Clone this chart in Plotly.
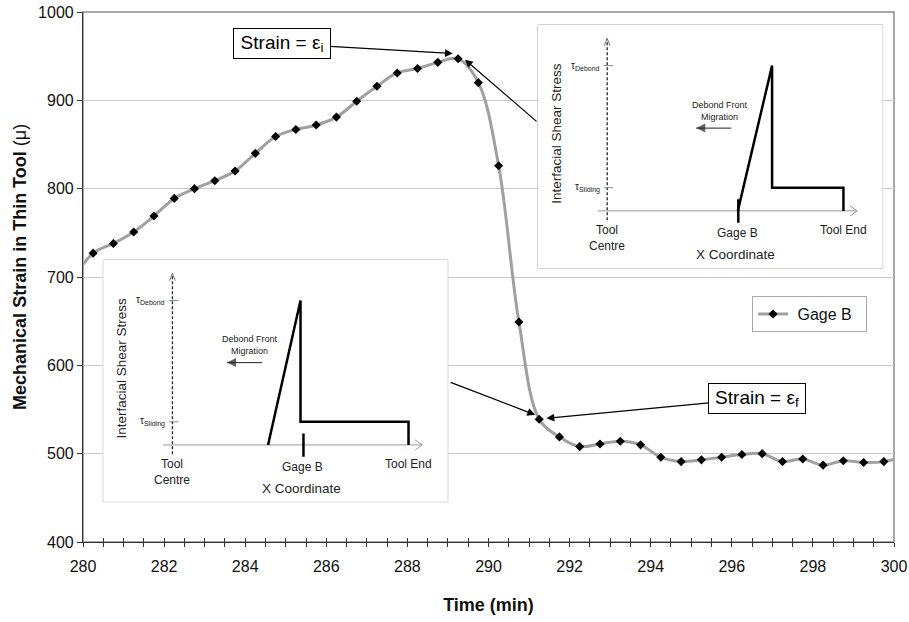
import plotly.graph_objects as go

# ---------------- main data ----------------
time_min = [279.75, 280.25, 280.75, 281.25, 281.75, 282.25, 282.75, 283.25, 283.75,
            284.25, 284.75, 285.25, 285.75, 286.25, 286.75, 287.25, 287.75, 288.25,
            288.75, 289.25, 289.75, 290.25, 290.75, 291.25, 291.75, 292.25, 292.75,
            293.25, 293.75, 294.25, 294.75, 295.25, 295.75, 296.25, 296.75, 297.25,
            297.75, 298.25, 298.75, 299.25, 299.75, 300.25]
gage_b = [697, 727, 738, 751, 769, 789, 800, 809, 820,
          840, 859, 867, 872, 881, 899, 916, 931, 936,
          943, 947, 920, 826, 649, 539, 519, 508, 511,
          514, 510, 496, 491, 493, 496, 499, 500, 491,
          494, 487, 492, 490, 491, 497]
series_name = "Gage B"

x_ticks = [280, 282, 284, 286, 288, 290, 292, 294, 296, 298, 300]
y_ticks = [400, 500, 600, 700, 800, 900, 1000]

# strain markers pointed at by the call-outs
eps_i_point = (289.12, 953)
eps_f_point = (291.43, 540)
upper_inset_target = (289.42, 946)
lower_inset_target = (291.15, 544)

# ---------------- inset schematic data (normalised units) ----------------
# x: 0 = tool centre, 1 = tool end ; y: 0 = zero stress, 1 = tau_debond
tau_debond = 1.0
tau_sliding = 0.16
gage_b_pos = 0.555
stress_axis_y = [-0.064, 1.187]
x_axis_ext = [-0.04, 1.058]
upper_profile_x = [0.553, 0.698, 0.698, 1.0, 1.0]
lower_profile_x = [0.405, 0.5425, 0.5425, 1.0, 1.0]
profile_y = [0, tau_debond, tau_sliding, tau_sliding, 0]
upper_migration = (0.525, 0.377)   # arrow tail -> head
lower_migration = (0.38, 0.231)
upper_migration_label_x = 0.478
lower_migration_label_x = 0.33

FONT = "Liberation Sans, Arial, sans-serif"
GRID = "#c8c8c8"
AXIS = "#333333"
NBSP = "\u00a0"

fig = go.Figure()

fig.add_trace(go.Scatter(
    x=time_min, y=gage_b, name=NBSP + series_name + NBSP * 2, mode="lines+markers",
    line=dict(color="#a0a0a0", width=3, shape="spline", smoothing=1),
    marker=dict(symbol="diamond", size=7, color="black"),
    cliponaxis=True, xaxis="x", yaxis="y"))

# invisible trace to activate the overlay axis used for the inner half of crossing ticks
fig.add_trace(go.Scatter(x=[None], y=[None], xaxis="x2", yaxis="y",
                         showlegend=False, hoverinfo="skip"))

annotations = []
shapes = []


def add_inset(xr, ya, profile_x, migration, mig_label_x):
    # stress axis (dashed) + open arrow head
    fig.add_trace(go.Scatter(x=[0, 0], y=stress_axis_y, mode="lines", xaxis=xr, yaxis=ya,
                             line=dict(color="#222", width=1.3, dash="3px,2px"),
                             showlegend=False, hoverinfo="skip"))
    top = stress_axis_y[1]
    fig.add_trace(go.Scatter(x=[-0.012, 0, 0.012], y=[top - 0.05, top, top - 0.05],
                             mode="lines", xaxis=xr, yaxis=ya,
                             line=dict(color="#777", width=1), showlegend=False, hoverinfo="skip"))
    # x coordinate axis + open arrow head
    fig.add_trace(go.Scatter(x=x_axis_ext, y=[0, 0], mode="lines", xaxis=xr, yaxis=ya,
                             line=dict(color="#999", width=1), showlegend=False, hoverinfo="skip"))
    end = x_axis_ext[1]
    fig.add_trace(go.Scatter(x=[end - 0.03, end, end - 0.03], y=[0.035, 0, -0.035],
                             mode="lines", xaxis=xr, yaxis=ya,
                             line=dict(color="#999", width=1), showlegend=False, hoverinfo="skip"))
    # tau ticks
    fig.add_trace(go.Scatter(x=[-0.014, 0.025, None, -0.014, 0.025],
                             y=[tau_debond, tau_debond, None, tau_sliding, tau_sliding],
                             mode="lines", xaxis=xr, yaxis=ya,
                             line=dict(color="#888", width=1), showlegend=False, hoverinfo="skip"))
    # shear stress profile
    fig.add_trace(go.Scatter(x=profile_x, y=profile_y, mode="lines", xaxis=xr, yaxis=ya,
                             line=dict(color="black", width=2.5), showlegend=False,
                             hoverinfo="skip"))
    # gage position tick
    fig.add_trace(go.Scatter(x=[gage_b_pos, gage_b_pos], y=[-0.082, 0.08], mode="lines",
                             xaxis=xr, yaxis=ya, line=dict(color="black", width=2.5),
                             showlegend=False, hoverinfo="skip"))
    # debond front migration arrow
    fig.add_trace(go.Scatter(x=[migration[0], migration[1]], y=[0.57, 0.57], mode="lines+markers",
                             xaxis=xr, yaxis=ya, line=dict(color="#222", width=1),
                             marker=dict(symbol=["circle", "arrow-left"], size=[0, 9],
                                         color="#222", line=dict(width=0)),
                             showlegend=False, hoverinfo="skip"))

    shapes.append(dict(type="rect", xref=f"{xr} domain", yref=f"{ya} domain",
                       x0=0, x1=1, y0=0, y1=1, fillcolor="white",
                       line=dict(color="#a8a8a8", width=1), layer="below"))
    small = dict(family=FONT, color="#222")
    annotations.extend([
        dict(x=-0.214, y=0.535, xref=xr, yref=ya, text="Interfacial Shear Stress",
             textangle=-90, showarrow=False, font=dict(size=13.5, **small)),
        dict(x=-0.022, y=tau_debond, xref=xr, yref=ya, text="τ<sub>Debond</sub>",
             xanchor="right", showarrow=False, font=dict(size=10, **small)),
        dict(x=-0.022, y=tau_sliding, xref=xr, yref=ya, text="τ<sub>Sliding</sub>",
             xanchor="right", showarrow=False, font=dict(size=10, **small)),
        dict(x=mig_label_x, y=0.69, xref=xr, yref=ya, text="Debond Front<br>Migration",
             showarrow=False, font=dict(size=9, **small)),
        dict(x=0, y=-0.185, xref=xr, yref=ya, text="Tool<br>Centre", showarrow=False,
             font=dict(size=12, **small)),
        dict(x=gage_b_pos - 0.005, y=-0.152, xref=xr, yref=ya, text="Gage B",
             showarrow=False, font=dict(size=12, **small)),
        dict(x=1.0, y=-0.133, xref=xr, yref=ya, text="Tool End", showarrow=False,
             font=dict(size=12, **small)),
        dict(x=0.545, y=-0.30, xref=xr, yref=ya, text="X Coordinate", showarrow=False,
             font=dict(size=13.5, **small)),
    ])


add_inset("x3", "y3", upper_profile_x, upper_migration, upper_migration_label_x)
add_inset("x4", "y4", lower_profile_x, lower_migration, lower_migration_label_x)

box_font = dict(family=FONT, size=19, color="black")
annotations.extend([
    dict(x=eps_i_point[0], y=eps_i_point[1], xref="x", yref="y",
         text="Strain = ε<sub>i</sub>", showarrow=True, ax=-171, ay=-10,
         arrowhead=2, arrowsize=1.3, arrowwidth=1.2, arrowcolor="black",
         bordercolor="black", borderwidth=1, borderpad=2, bgcolor="white",
         width=92, height=25, font=box_font),
    dict(x=eps_f_point[0], y=eps_f_point[1], xref="x", yref="y",
         text="Strain = ε<sub>f</sub>", showarrow=True, ax=211, ay=-20,
         arrowhead=2, arrowsize=1.3, arrowwidth=1.2, arrowcolor="black",
         bordercolor="black", borderwidth=1, borderpad=2, bgcolor="white",
         width=92, height=25, font=box_font),
    dict(x=upper_inset_target[0], y=upper_inset_target[1], xref="x", yref="y",
         text="", showarrow=True, ax=73, ay=63, arrowhead=2, arrowsize=1.3,
         arrowwidth=1.2, arrowcolor="black"),
    dict(x=lower_inset_target[0], y=lower_inset_target[1], xref="x", yref="y",
         text="", showarrow=True, ax=-86, ay=-33, arrowhead=2, arrowsize=1.3,
         arrowwidth=1.2, arrowcolor="black"),
    # y-axis title (placed as in the reference: slightly above the plot centre)
    dict(x=-0.0777, y=0.519, xref="paper", yref="paper", xanchor="center", yanchor="middle",
         text="<b>Mechanical Strain in Thin Tool </b>(μ)", textangle=-90, showarrow=False,
         font=dict(size=18, family=FONT, color="#111")),
])

# gray frame on top / right of the plot area
shapes.append(dict(type="rect", xref="paper", yref="paper", x0=0, x1=1, y0=0, y1=1,
                   line=dict(color="#8c8c8c", width=1.5), layer="below"))

inset_axis = dict(visible=False, showgrid=False, zeroline=False, fixedrange=True)

fig.update_layout(
    width=909, height=622,
    margin=dict(l=83, r=15, t=12, b=80, autoexpand=False),
    paper_bgcolor="white", plot_bgcolor="white",
    font=dict(family=FONT, size=16, color="#111"),
    showlegend=True,
    legend=dict(x=0.825, y=0.464, xanchor="left", yanchor="top",
                bordercolor="#a8a8a8", borderwidth=1, bgcolor="white",
                font=dict(size=16, family=FONT, color="#111"), itemwidth=30),
    xaxis=dict(range=[280, 300], domain=[0, 1], tickmode="array", tickvals=x_ticks,
               ticks="outside", ticklen=4, tickcolor=AXIS, tickwidth=1,
               ticklabelstandoff=6, automargin=False,
               minor=dict(dtick=0.5, tick0=280, ticks="outside", ticklen=4,
                          tickcolor=AXIS, showgrid=False),
               showline=True, linecolor=AXIS, linewidth=1.2, showgrid=False,
               zeroline=False,
               title=dict(text="<b>Time (min)</b>", font=dict(size=18, family=FONT),
                          standoff=24)),
    xaxis2=dict(range=[280, 300], overlaying="x", side="bottom", anchor="y",
                tickmode="linear", tick0=280, dtick=0.5, ticks="inside", ticklen=4,
                tickcolor=AXIS, showticklabels=False, showgrid=False, zeroline=False,
                showline=False, automargin=False),
    yaxis=dict(range=[400, 1000], tickmode="array", tickvals=y_ticks, ticks="outside",
               ticklen=5, tickcolor=AXIS, showline=True, linecolor=AXIS, linewidth=1.2,
               showgrid=True, gridcolor=GRID, gridwidth=1, zeroline=False,
               automargin=False),
    xaxis3=dict(domain=[0.561, 0.986], anchor="y3", range=[-0.293, 1.166], **inset_axis),
    yaxis3=dict(domain=[0.517, 0.9755], anchor="x3", range=[-0.393, 1.28], **inset_axis),
    xaxis4=dict(domain=[0.025, 0.4497], anchor="y4", range=[-0.293, 1.166], **inset_axis),
    yaxis4=dict(domain=[0.076, 0.532], anchor="x4", range=[-0.393, 1.28], **inset_axis),
    annotations=annotations,
    shapes=shapes,
)

fig.write_html("out.html")
